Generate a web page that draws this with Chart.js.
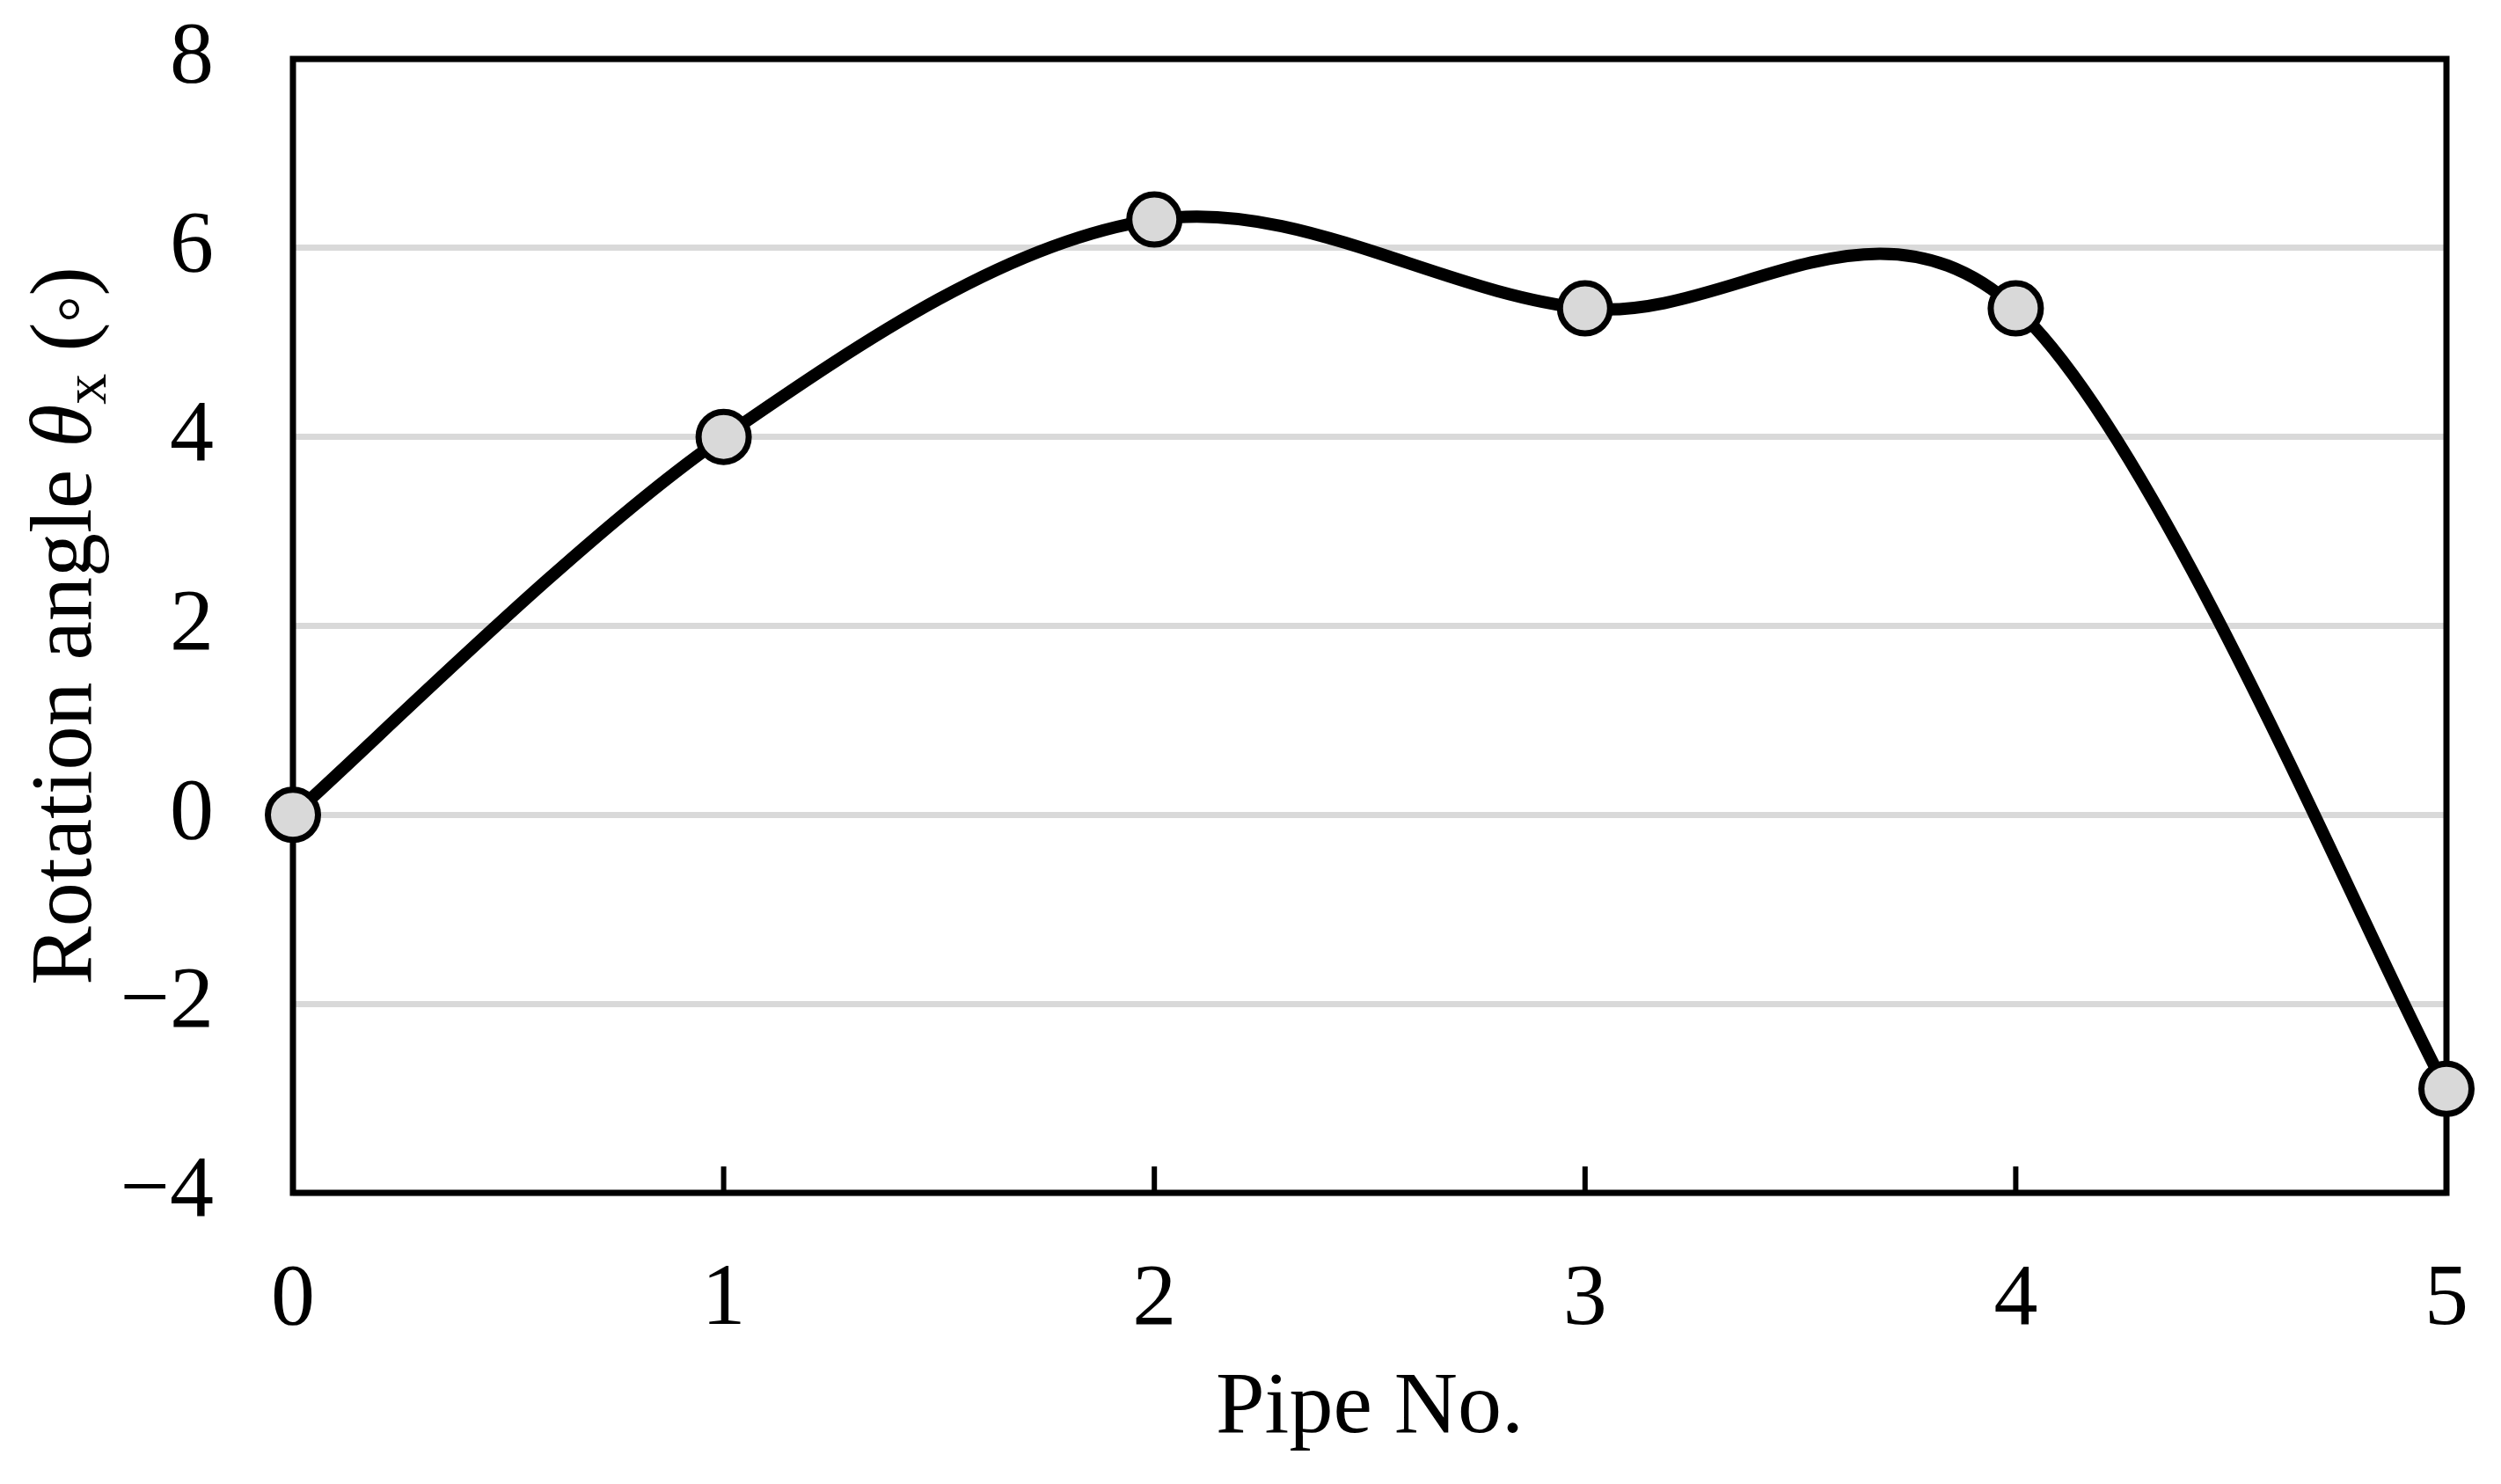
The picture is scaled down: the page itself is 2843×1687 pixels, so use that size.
<!DOCTYPE html>
<html>
<head>
<meta charset="utf-8">
<script src="https://cdn.jsdelivr.net/npm/chart.js@4.4.1/dist/chart.umd.min.js"></script>
<style>
  html, body { margin: 0; padding: 0; background: #fff; }
  #wrap { width: 2843px; height: 1687px; }
</style>
</head>
<body>
<div id="wrap"><canvas id="chartLine" width="2843" height="1687"></canvas></div>
<script>
const pipeNo = [0, 1, 2, 3, 4, 5];
const rotationAngle = [0, 4.0, 6.3, 5.36, 5.36, -2.9];
const xTicks = [0, 1, 2, 3, 4, 5];
const yTicks = [-4, -2, 0, 2, 4, 6, 8];

const serif = "'Liberation Serif', 'Times New Roman', serif";
const fontSize = 100;
const tickFont = { family: serif, size: fontSize };

// Excel-like smoothing: Catmull-Rom control points (1/6 of neighbour span)
const smooth = {
  id: "smooth",
  beforeDatasetDraw(chart, args) {
    const pts = args.meta.data;
    const n = pts.length;
    for (let i = 0; i < n; i++) {
      const p = pts[i];
      const prev = pts[Math.max(i - 1, 0)];
      const next = pts[Math.min(i + 1, n - 1)];
      const dx = (next.x - prev.x) / 6;
      const dy = (next.y - prev.y) / 6;
      p.cp1x = p.x - dx;
      p.cp1y = p.y - dy;
      p.cp2x = p.x + dx;
      p.cp2y = p.y + dy;
    }
    args.meta.dataset._pointsUpdated = true;
  },
};

// box round the plot + short inner ticks on the x axis
const frame = {
  id: "frame",
  beforeDatasetsDraw(chart) {
    const { ctx, chartArea: a, scales } = chart;
    ctx.save();
    ctx.strokeStyle = "#000";
    ctx.lineWidth = 7;
    ctx.strokeRect(a.left, a.top, a.right - a.left, a.bottom - a.top);
    ctx.lineWidth = 6;
    ctx.beginPath();
    xTicks.forEach((v) => {
      const px = scales.x.getPixelForValue(v);
      ctx.moveTo(px, a.bottom);
      ctx.lineTo(px, a.bottom - 30);
    });
    ctx.stroke();
    ctx.restore();
  },
  // y title with italic theta and subscript x
  afterDraw(chart) {
    const { ctx, chartArea: a } = chart;
    const parts = [
      { t: "Rotation angle ", f: fontSize + "px " + serif, dy: 0 },
      { t: "\u03B8", f: "italic " + fontSize + "px " + serif, dy: 0 },
      { t: "x", f: "70px " + serif, dy: 17 },
      { t: " (", f: fontSize + "px " + serif, dy: 0 },
      { t: "\u00B0", f: "75px " + serif, dy: 14 },
      { t: ")", f: fontSize + "px " + serif, dy: 0 },
    ];
    ctx.save();
    let total = 0;
    parts.forEach((p) => {
      ctx.font = p.f;
      p.w = ctx.measureText(p.t).width;
      total += p.w;
    });
    ctx.translate(103, (a.top + a.bottom) / 2);
    ctx.rotate(-Math.PI / 2);
    ctx.fillStyle = "#000";
    ctx.textBaseline = "alphabetic";
    let x = -total / 2;
    parts.forEach((p) => {
      ctx.font = p.f;
      ctx.fillText(p.t, x, p.dy);
      x += p.w;
    });
    ctx.restore();
  },
};

const dataLine = {
  datasets: [
    {
      data: pipeNo.map((x, i) => ({ x: x, y: rotationAngle[i] })),
      borderColor: "#000",
      borderWidth: 14,
      tension: 0.4,
      fill: false,
      clip: false,
      pointRadius: 28.5,
      pointBorderWidth: 7,
      pointBackgroundColor: "#d9d9d9",
      pointBorderColor: "#000",
    },
  ],
};

const noPad = (s) => {
  s.paddingTop = 0;
  s.paddingBottom = 0;
  s.paddingLeft = 0;
  s.paddingRight = 0;
};

const configLine = {
  type: "line",
  data: dataLine,
  options: {
    responsive: false,
    animation: false,
    devicePixelRatio: 1,
    layout: { padding: { top: 67, right: 62, left: 0, bottom: 0 } },
    plugins: { legend: { display: false }, tooltip: { enabled: false } },
    scales: {
      x: {
        type: "linear",
        min: 0,
        max: 5,
        afterBuildTicks: (s) => { s.ticks = xTicks.map((v) => ({ value: v })); },
        afterFit: (s) => { s.height = 331; noPad(s); },
        grid: { display: false, drawTicks: false },
        border: { display: false },
        ticks: { padding: 63, font: tickFont, color: "#000", maxRotation: 0 },
        title: {
          display: true,
          text: "Pipe No.",
          font: tickFont,
          color: "#000",
          padding: { top: 0, bottom: 25 },
        },
      },
      y: {
        min: -4,
        max: 8,
        afterBuildTicks: (s) => { s.ticks = yTicks.map((v) => ({ value: v })); },
        afterFit: (s) => { s.width = 333; noPad(s); },
        grid: { color: "#d9d9d9", lineWidth: 7, drawTicks: false },
        border: { display: false },
        ticks: {
          padding: 90,
          font: tickFont,
          color: "#000",
          callback: (v) => (v < 0 ? "\u2212" + Math.abs(v) : String(v)),
        },
      },
    },
  },
  plugins: [smooth, frame],
};

var chartLine = new Chart(document.getElementById("chartLine"), configLine);
</script>
</body>
</html>
